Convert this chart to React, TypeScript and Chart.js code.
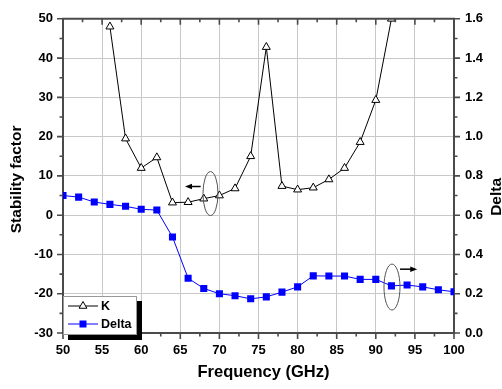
import React, { useEffect, useRef } from "react";
import { Chart, registerables } from "chart.js";

Chart.register(...registerables);

// ---- data ----
const kFreq = [56, 58, 60, 62, 64, 66, 68, 70, 72, 74, 76, 78, 80, 82, 84, 86, 88, 90, 92];
const kValues = [48, 19.5, 12, 14.7, 3.2, 3.3, 4.2, 5.0, 6.8, 15, 42.8, 7.4, 6.5, 7.0, 9.1, 12, 18.6, 29.3, 50];

const deltaFreq = [50, 52, 54, 56, 58, 60, 62, 64, 66, 68, 70, 72, 74, 76, 78, 80, 82, 84, 86, 88, 90, 92, 94, 96, 98, 100];
const deltaValues = [0.70, 0.692, 0.667, 0.655, 0.645, 0.63, 0.626, 0.489, 0.279, 0.227, 0.20, 0.19, 0.174, 0.184, 0.208, 0.235, 0.291, 0.29, 0.29, 0.273, 0.273, 0.24, 0.244, 0.235, 0.22, 0.21];

const xTicks = [50, 55, 60, 65, 70, 75, 80, 85, 90, 95, 100];
const yTicks = [-30, -20, -10, 0, 10, 20, 30, 40, 50];
const y2Ticks = [0, 0.2, 0.4, 0.6, 0.8, 1.0, 1.2, 1.4, 1.6];

const xTitle = "Frequency (GHz)";
const yTitle = "Stability factor";
const y2Title = "Delta";
const legendLabels = ["K", "Delta"];

// annotation anchors (data coords): ellipse centers and arrow spans
const ellipseK = { x: 68.86, y: 5.5 };
const arrowK = { x1: 67.6, x2: 65.6, y: 7.3 };
const ellipseD = { x: 92.07, y: 0.234 };
const arrowD = { x1: 93.1, x2: 95.3, y: 0.325 };

const FONT = "'Liberation Sans', Arial, sans-serif";
const AXIS_COLOR = "#4a4a4a";
const BLUE = "#0000ff";

function drawTriangle(ctx: CanvasRenderingContext2D, x: number, y: number, r: number) {
  ctx.beginPath();
  ctx.moveTo(x, y - r);
  ctx.lineTo(x + r * Math.sin((2 * Math.PI) / 3), y - r * Math.cos((2 * Math.PI) / 3));
  ctx.lineTo(x + r * Math.sin((4 * Math.PI) / 3), y - r * Math.cos((4 * Math.PI) / 3));
  ctx.closePath();
  ctx.fillStyle = "#fff";
  ctx.fill();
  ctx.strokeStyle = "#000";
  ctx.lineWidth = 1;
  ctx.stroke();
}

function arrow(ctx: CanvasRenderingContext2D, x1: number, x2: number, y: number) {
  const dir = Math.sign(x2 - x1);
  ctx.strokeStyle = "#000";
  ctx.fillStyle = "#000";
  ctx.lineWidth = 1.5;
  ctx.beginPath();
  ctx.moveTo(x1, y);
  ctx.lineTo(x2 - dir * 5, y);
  ctx.stroke();
  ctx.beginPath();
  ctx.moveTo(x2, y);
  ctx.lineTo(x2 - dir * 7, y - 2.8);
  ctx.lineTo(x2 - dir * 7, y + 2.8);
  ctx.closePath();
  ctx.fill();
}

const decorPlugin = {
  id: "decor",
  afterDatasetsDraw(chart: any) {
    const ctx: CanvasRenderingContext2D = chart.ctx;
    const { left, right, top, bottom } = chart.chartArea;
    const xs = chart.scales.x;
    const ys = chart.scales.y;
    const y2s = chart.scales.y2;
    ctx.save();

    // top border
    ctx.strokeStyle = AXIS_COLOR;
    ctx.lineWidth = 2;
    ctx.beginPath();
    ctx.moveTo(left - 1, top);
    ctx.lineTo(right + 1, top);
    ctx.stroke();

    // tick marks
    ctx.lineWidth = 1.6;
    ctx.strokeStyle = AXIS_COLOR;
    ctx.beginPath();
    for (let i = 0; i < xTicks.length; i++) {
      const v = xTicks[i];
      const p = xs.getPixelForValue(v);
      ctx.moveTo(p, bottom); ctx.lineTo(p, bottom + 6);
      ctx.moveTo(p, top); ctx.lineTo(p, top + 6);
      if (i < xTicks.length - 1) {
        const m = xs.getPixelForValue((v + xTicks[i + 1]) / 2);
        ctx.moveTo(m, bottom); ctx.lineTo(m, bottom + 3.5);
        ctx.moveTo(m, top); ctx.lineTo(m, top + 3.5);
      }
    }
    for (let i = 0; i < yTicks.length; i++) {
      const v = yTicks[i];
      const p = ys.getPixelForValue(v);
      ctx.moveTo(left, p); ctx.lineTo(left - 6, p);
      if (i < yTicks.length - 1) {
        const m = ys.getPixelForValue((v + yTicks[i + 1]) / 2);
        ctx.moveTo(left, m); ctx.lineTo(left - 3.5, m);
      }
    }
    for (let i = 0; i < y2Ticks.length; i++) {
      const v = y2Ticks[i];
      const p = y2s.getPixelForValue(v);
      ctx.moveTo(right, p); ctx.lineTo(right + 6, p);
      if (i < y2Ticks.length - 1) {
        const m = y2s.getPixelForValue((v + y2Ticks[i + 1]) / 2);
        ctx.moveTo(right, m); ctx.lineTo(right + 3.5, m);
      }
    }
    ctx.stroke();

    // ellipses and arrows
    ctx.strokeStyle = "#555";
    ctx.lineWidth = 1;
    ctx.beginPath();
    ctx.ellipse(xs.getPixelForValue(ellipseK.x), ys.getPixelForValue(ellipseK.y), 7.5, 22, 0, 0, Math.PI * 2);
    ctx.stroke();
    ctx.beginPath();
    ctx.ellipse(xs.getPixelForValue(ellipseD.x), y2s.getPixelForValue(ellipseD.y), 8, 23, 0, 0, Math.PI * 2);
    ctx.stroke();
    arrow(ctx, xs.getPixelForValue(arrowK.x1), xs.getPixelForValue(arrowK.x2), ys.getPixelForValue(arrowK.y));
    arrow(ctx, xs.getPixelForValue(arrowD.x1), xs.getPixelForValue(arrowD.x2), y2s.getPixelForValue(arrowD.y));

    // legend
    const lx = left;
    const ly = bottom - 37;
    const lw = 74;
    const lh = 39;
    ctx.fillStyle = "#000";
    ctx.fillRect(lx + 5, ly + 5, lw, lh);
    ctx.fillStyle = "#fff";
    ctx.fillRect(lx, ly, lw, lh);
    ctx.strokeStyle = "#999";
    ctx.lineWidth = 1;
    ctx.strokeRect(lx + 0.5, ly + 0.5, lw - 1, lh - 1);

    const r1 = ly + 10;
    const r2 = ly + 28;
    ctx.strokeStyle = "#000";
    ctx.beginPath();
    ctx.moveTo(lx + 5, r1); ctx.lineTo(lx + 35, r1);
    ctx.stroke();
    drawTriangle(ctx, lx + 20, r1, 4.5);
    ctx.strokeStyle = BLUE;
    ctx.beginPath();
    ctx.moveTo(lx + 5, r2); ctx.lineTo(lx + 35, r2);
    ctx.stroke();
    ctx.fillStyle = BLUE;
    ctx.fillRect(lx + 16.5, r2 - 3.5, 7, 7);

    ctx.fillStyle = "#000";
    ctx.font = `bold 12.5px ${FONT}`;
    ctx.textBaseline = "middle";
    ctx.textAlign = "left";
    ctx.fillText(legendLabels[0], lx + 38, r1 + 0.5);
    ctx.fillText(legendLabels[1], lx + 38, r2 + 0.5);

    // axis titles
    ctx.fillStyle = "#000";
    ctx.textBaseline = "alphabetic";
    ctx.textAlign = "center";
    ctx.font = `bold 16.5px ${FONT}`;
    ctx.fillText(xTitle, (left + right) / 2 + 5, bottom + 43.5);

    ctx.font = `bold 15.5px ${FONT}`;
    ctx.save();
    ctx.translate(21, (top + bottom) / 2 + 3.5);
    ctx.rotate(-Math.PI / 2);
    ctx.fillText(yTitle, 0, 0);
    ctx.restore();

    ctx.save();
    ctx.translate(501, (top + bottom) / 2 + 21);
    ctx.rotate(-Math.PI / 2);
    ctx.fillText(y2Title, 0, 0);
    ctx.restore();

    ctx.restore();
  },
};

export default function App() {
  const ref = useRef<HTMLCanvasElement | null>(null);

  useEffect(() => {
    const canvas = ref.current;
    if (!canvas) return;
    const tickFont = { family: FONT, size: 13, weight: "bold" as const };
    const gridColor = "#c8c8c8";

    const chart = new Chart(canvas, {
      type: "line",
      data: {
        datasets: [
          {
            label: legendLabels[0],
            data: kFreq.map((f, i) => ({ x: f, y: kValues[i] })),
            yAxisID: "y",
            borderColor: "#000",
            borderWidth: 1,
            pointStyle: "triangle",
            pointRadius: 4.6,
            pointBackgroundColor: "#fff",
            pointBorderColor: "#000",
            pointBorderWidth: 1,
            tension: 0,
          },
          {
            label: legendLabels[1],
            data: deltaFreq.map((f, i) => ({ x: f, y: deltaValues[i] })),
            yAxisID: "y2",
            borderColor: BLUE,
            borderWidth: 1,
            pointStyle: "rect",
            pointRadius: 5,
            pointBackgroundColor: BLUE,
            pointBorderColor: BLUE,
            pointBorderWidth: 0,
            tension: 0,
          },
        ],
      },
      options: {
        responsive: false,
        animation: false,
        layout: { padding: { top: 18, left: 0, right: 0, bottom: 0 } },
        plugins: { legend: { display: false }, tooltip: { enabled: false } },
        scales: {
          x: {
            type: "linear",
            min: 50,
            max: 100,
            afterBuildTicks: (s: any) => { s.ticks = xTicks.map((v) => ({ value: v })); },
            afterFit: (s: any) => { s.height = 56; },
            ticks: { font: tickFont, color: "#000", padding: 10, maxRotation: 0, autoSkip: false },
            grid: { color: gridColor, lineWidth: 1, drawTicks: false },
            border: { color: AXIS_COLOR, width: 2 },
          },
          y: {
            type: "linear",
            position: "left",
            min: -30,
            max: 50,
            afterBuildTicks: (s: any) => { s.ticks = yTicks.map((v) => ({ value: v })); },
            afterFit: (s: any) => { s.width = 63; },
            ticks: { font: tickFont, color: "#000", padding: 10, autoSkip: false },
            grid: { color: gridColor, lineWidth: 1, drawTicks: false },
            border: { color: AXIS_COLOR, width: 2 },
          },
          y2: {
            type: "linear",
            position: "right",
            min: 0,
            max: 1.6,
            afterBuildTicks: (s: any) => { s.ticks = y2Ticks.map((v) => ({ value: v })); },
            afterFit: (s: any) => { s.width = 48; },
            ticks: {
              font: tickFont,
              color: "#000",
              padding: 11,
              autoSkip: false,
              callback: (v: any) => Number(v).toFixed(1),
            },
            grid: { display: false, drawTicks: false },
            border: { color: AXIS_COLOR, width: 2 },
          },
        },
      },
      plugins: [decorPlugin],
    });
    return () => chart.destroy();
  }, []);

  return (
    <div style={{ position: "absolute", left: 0, top: 0, width: 502, height: 389, background: "#fff" }}>
      <canvas ref={ref} width={502} height={389} style={{ width: 502, height: 389, display: "block" }} />
    </div>
  );
}
